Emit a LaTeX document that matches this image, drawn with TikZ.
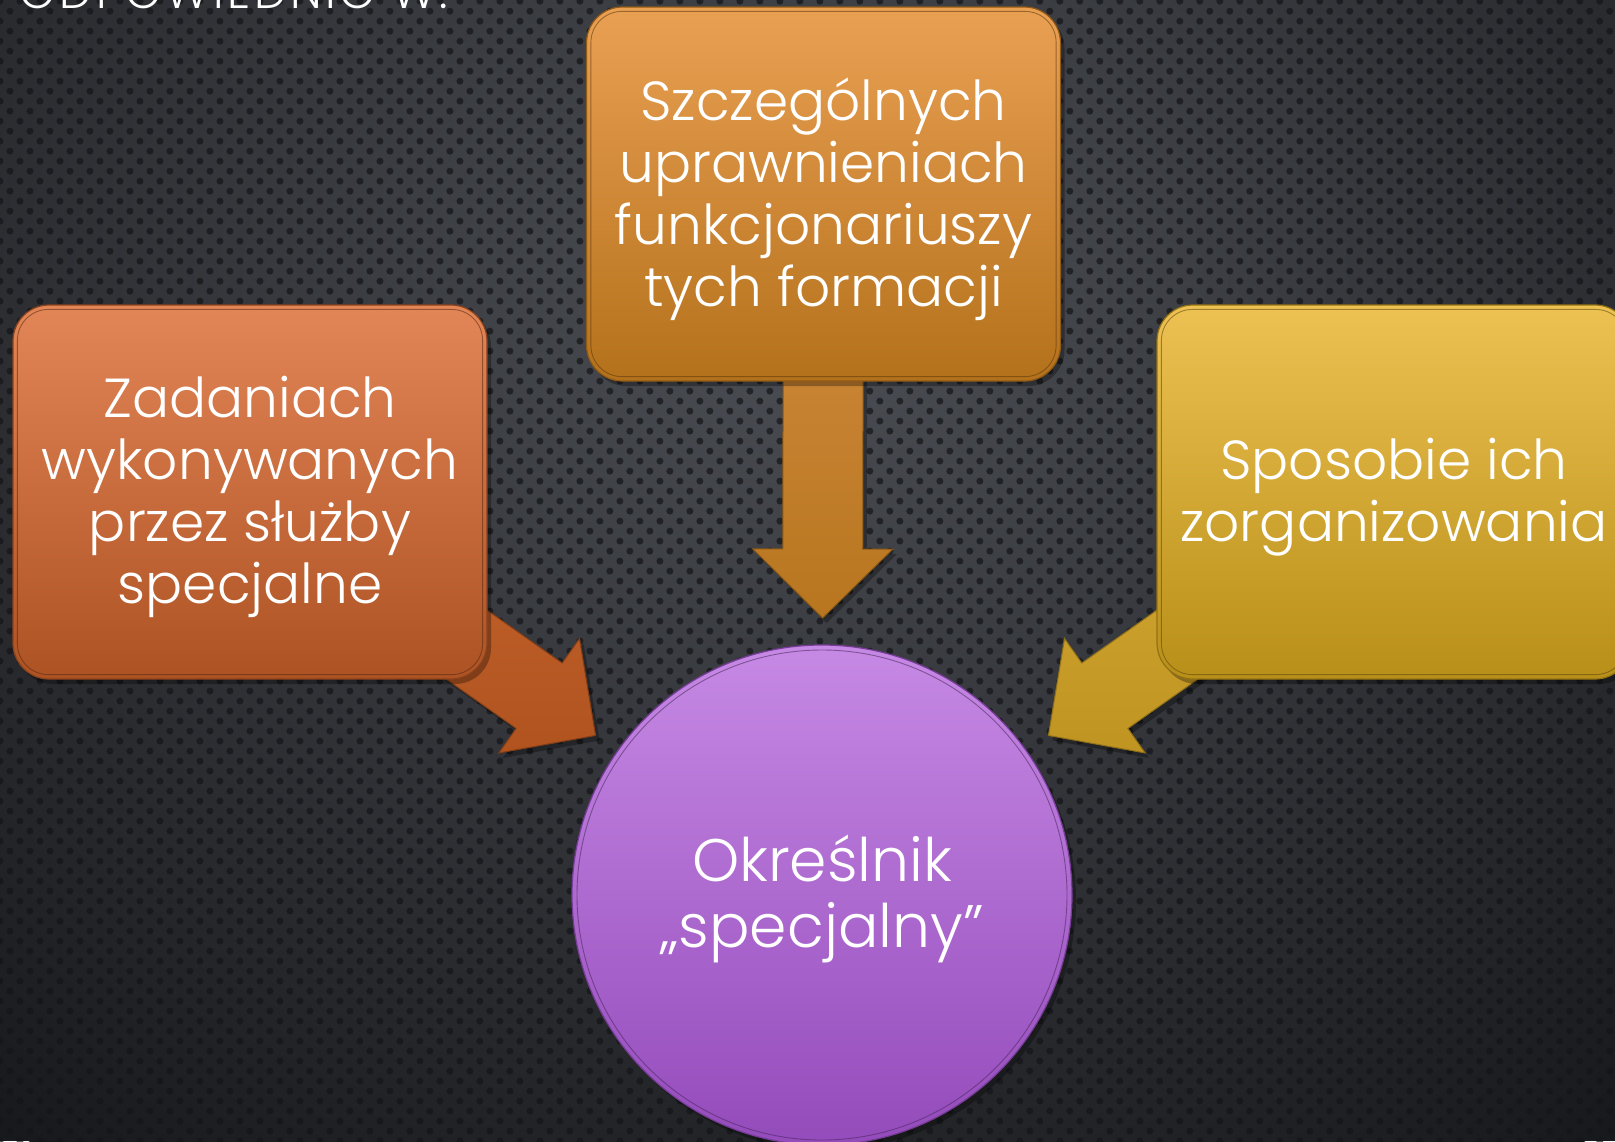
\documentclass[tikz,border=0pt]{standalone}
\usepackage{fontspec}
\setmainfont{Poppins}[UprightFont=* Light]
\usetikzlibrary{calc,patterns.meta,shadows}
\pgfdeclarelayer{back}
\pgfdeclarelayer{arrowlayer}
\pgfsetlayers{back,arrowlayer,main}

\definecolor{bgLight}{HTML}{4C4F55}
\definecolor{bgDark}{HTML}{18191C}
\definecolor{dotC}{HTML}{141518}
\definecolor{lTop}{HTML}{E38657}
\definecolor{lBot}{HTML}{AD5223}
\definecolor{tTop}{HTML}{EAA053}
\definecolor{tBot}{HTML}{B4711B}
\definecolor{rTop}{HTML}{EDC152}
\definecolor{rBot}{HTML}{B88F18}
\definecolor{cTop}{HTML}{C689E4}
\definecolor{cBot}{HTML}{944BBB}
\definecolor{laTop}{HTML}{C8672F}
\definecolor{laBot}{HTML}{B0531F}
\definecolor{taTop}{HTML}{D48D42}
\definecolor{taBot}{HTML}{B8761F}
\definecolor{raTop}{HTML}{D6AA36}
\definecolor{raBot}{HTML}{C09421}

\tikzset{
  boxshape/.style={rectangle, rounded corners=36pt, minimum width=474pt,
    minimum height=374pt, align=center, text=white,
    font=\fontsize{55}{62}\selectfont, line width=1.2pt,
    drop shadow={shadow xshift=4pt, shadow yshift=-5pt, opacity=0.3, fill=black}},
  circshape/.style={circle, minimum size=500pt, align=center, text=white,
    font=\fontsize{60}{66}\selectfont, line width=1.2pt,
    drop shadow={shadow xshift=4pt, shadow yshift=-5pt, opacity=0.3, fill=black}},
  arrowshape/.style={line width=1pt,
    drop shadow={shadow xshift=4pt, shadow yshift=-5pt, opacity=0.3, fill=black}},
  innerline/.style={line width=0.9pt, opacity=0.55}
}

% #1 tail node, #2 tip coordinate, #3 prefix, #4 top colour, #5 bottom colour
\newcommand\blockarrow[5]{%
  \coordinate (#3H) at ($(#2)!69pt!(#1)$);
  \filldraw[arrowshape, top color=#4, bottom color=#5, draw=#5!75!black]
    ($(#1)!40pt!90:(#2)$) -- ($(#3H)!40pt!90:(#2)$) -- ($(#3H)!70pt!90:(#2)$)
    -- (#2) -- ($(#3H)!70pt!-90:(#2)$) -- ($(#3H)!40pt!-90:(#2)$)
    -- ($(#1)!40pt!-90:(#2)$) -- cycle;
}
\newcommand\bevelbox[2]{%
  \draw[innerline, draw=#2, rounded corners=31pt]
    ([shift={(5,5)}]#1.north west) rectangle ([shift={(-5,-5)}]#1.south east);
}
\newcommand\topstrut[1]{\rule{0pt}{#1}}

\begin{document}
\begin{tikzpicture}[x=1pt,y=-1pt]
\useasboundingbox (0,0) rectangle (1615,1141);

\begin{pgfonlayer}{back}
  \fill[bgDark] (0,0) rectangle (1615,1141);
  \shade[inner color=bgLight, outer color=bgDark] (807,300) ellipse (1300 and 1050);
  \fill[pattern={Dots[radius=3.5pt, distance=14.14pt, angle=45]}, pattern color=dotC,
        fill opacity=0.7] (0,0) rectangle (1615,1141);
\end{pgfonlayer}

\node[anchor=base east, text=white, font=\fontsize{46}{46}\selectfont\addfontfeatures{LetterSpace=8}] (title)
  at (452,8) {ODPOWIEDNIO W:};

\node[boxshape, top color=lTop, bottom color=lBot, draw=lBot!80!black] (lbox) at (250,492)
  {\topstrut{51pt}Zadaniach\\wykonywanych\\przez służby\\specjalne};
\node[boxshape, top color=tTop, bottom color=tBot, draw=tBot!80!black] (tbox) at (823.5,194)
  {\topstrut{53pt}Szczególnych\\uprawnieniach\\funkcjonariuszy\\tych formacji};
\node[boxshape, top color=rTop, bottom color=rBot, draw=rBot!80!black] (rbox) at (1394,492)
  {\topstrut{51pt}Sposobie ich\\zorganizowania};
\node[circshape, top color=cTop, bottom color=cBot, draw=cBot!80!black] (circ) at (822,895)
  {\topstrut{54pt}Określnik\\„specjalny”};

\bevelbox{lbox}{lBot!50!black}
\bevelbox{tbox}{tBot!50!black}
\bevelbox{rbox}{rBot!50!black}
\draw[innerline, draw=cBot!50!black] (circ.center) circle (245);

\coordinate (ltip) at ($(circ.center)!277pt!(lbox.center)$);
\coordinate (ttip) at ($(circ.center)!277pt!(tbox.center)$);
\coordinate (rtip) at ($(circ.center)!277pt!(rbox.center)$);

\begin{pgfonlayer}{arrowlayer}
  \blockarrow{lbox.center}{ltip}{la}{laTop}{laBot}
  \blockarrow{tbox.center}{ttip}{ta}{taTop}{taBot}
  \blockarrow{rbox.center}{rtip}{ra}{raTop}{raBot}
\end{pgfonlayer}
\end{tikzpicture}
\end{document}
